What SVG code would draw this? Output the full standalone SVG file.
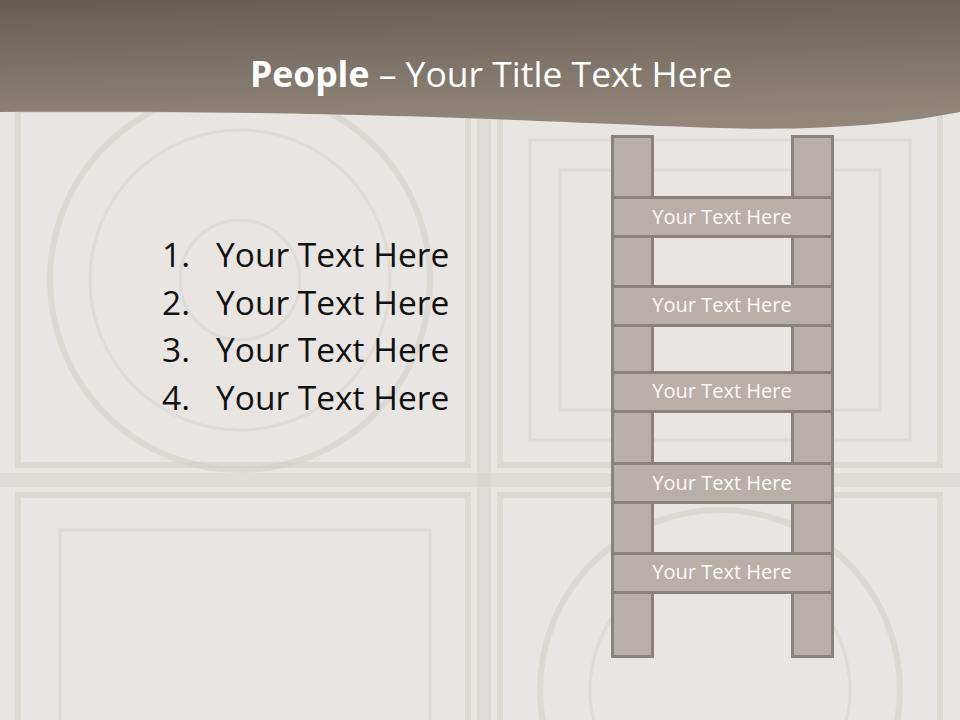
<svg xmlns="http://www.w3.org/2000/svg" width="960" height="720" viewBox="0 0 960 720">
<defs>
<linearGradient id="hdr" x1="0" y1="0" x2="0.15" y2="1">
<stop offset="0" stop-color="#655d54"/>
<stop offset="1" stop-color="#928679"/>
</linearGradient>
<style>
.tile{fill:none;stroke:#d4cec8;stroke-width:6;opacity:0.6}
.tile2{fill:none;stroke:#d9d4cf;stroke-width:3;opacity:0.6}
.rail{fill:#b8b0a8;stroke:#8a827b;stroke-width:3}
.rung{fill:#b8b0a8;stroke:#8a827b;stroke-width:3}
.rt{font-family:"Open Sans","DejaVu Sans",sans-serif;font-size:20px;fill:#fbfaf8;text-anchor:middle}
.li{font-family:"Open Sans","Liberation Sans",sans-serif;font-size:33.5px;fill:#111111}
</style>
</defs>
<rect x="0" y="0" width="960" height="720" fill="#e8e5e2"/>
<g id="background-tiles">
<rect x="18" y="110" width="450" height="355" class="tile"/>
<rect x="500" y="110" width="440" height="355" class="tile"/>
<rect x="18" y="495" width="450" height="240" class="tile"/>
<rect x="500" y="495" width="440" height="240" class="tile"/>
<circle cx="240" cy="280" r="190" class="tile"/>
<circle cx="240" cy="280" r="150" class="tile2"/>
<circle cx="240" cy="280" r="60" class="tile2"/>
<rect x="530" y="140" width="380" height="300" class="tile2"/>
<rect x="560" y="170" width="320" height="240" class="tile2"/>
<rect x="60" y="530" width="370" height="200" class="tile2"/>
<circle cx="720" cy="690" r="180" class="tile"/>
<circle cx="720" cy="690" r="130" class="tile2"/>
<line x1="484" y1="110" x2="484" y2="720" stroke="#d8d2cc" stroke-width="14" opacity="0.5"/>
<line x1="0" y1="480" x2="960" y2="480" stroke="#d8d2cc" stroke-width="14" opacity="0.5"/>
</g>
<g id="header">
<path d="M0,0 H960 V112 C900,124 820,131 720,128 C560,123 380,110 0,112 Z" fill="url(#hdr)"/>
<text x="491" y="87" text-anchor="middle" font-family="'Open Sans','Liberation Sans',sans-serif" font-size="35.5" fill="#ffffff"><tspan font-weight="bold">People</tspan> – Your Title Text Here</text>
</g>
<g id="list">
<text x="162" y="267" class="li">1.</text><text x="216" y="267" class="li">Your Text Here</text>
<text x="162" y="315" class="li">2.</text><text x="216" y="315" class="li">Your Text Here</text>
<text x="162" y="362" class="li">3.</text><text x="216" y="362" class="li">Your Text Here</text>
<text x="162" y="410" class="li">4.</text><text x="216" y="410" class="li">Your Text Here</text>
</g>
<g id="ladder">
<g id="rails">
<rect x="612.5" y="136.5" width="40" height="520" class="rail"/>
<rect x="792.5" y="136.5" width="40" height="520" class="rail"/>
</g>
<g id="rung1"><rect x="612.5" y="197.5" width="220" height="39" class="rung"/><text x="722" y="224" class="rt">Your Text Here</text></g>
<g id="rung2"><rect x="612.5" y="286.5" width="220" height="39" class="rung"/><text x="722" y="312" class="rt">Your Text Here</text></g>
<g id="rung3"><rect x="612.5" y="372.5" width="220" height="39" class="rung"/><text x="722" y="398" class="rt">Your Text Here</text></g>
<g id="rung4"><rect x="612.5" y="463.5" width="220" height="39" class="rung"/><text x="722" y="490" class="rt">Your Text Here</text></g>
<g id="rung5"><rect x="612.5" y="553.5" width="220" height="39" class="rung"/><text x="722" y="579" class="rt">Your Text Here</text></g>
</g>
</svg>
